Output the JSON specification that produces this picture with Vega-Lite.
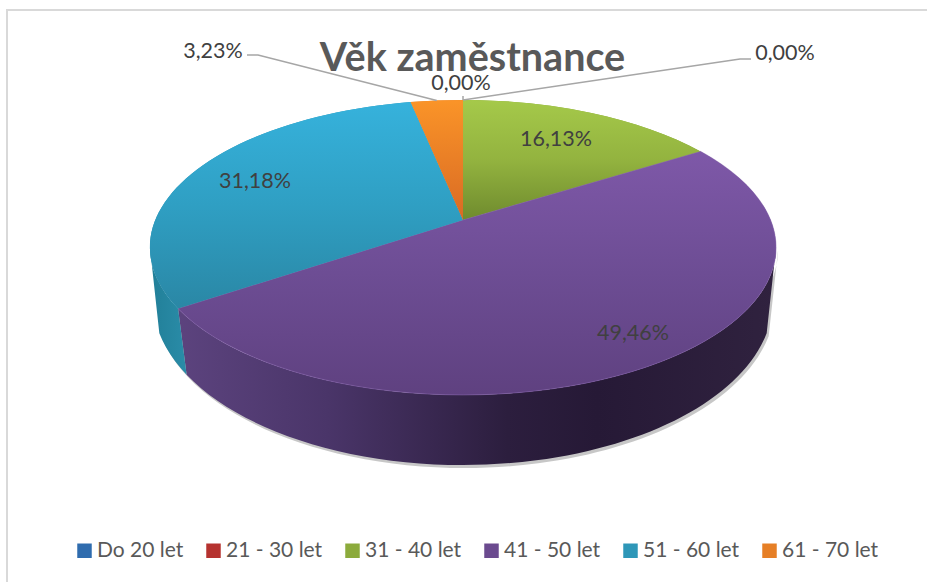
{
"$schema":"https://vega.github.io/schema/vega-lite/v6.json",
"width":925,"height":585,
"autosize":{"type":"none"},
"padding":{"left":7,"top":10,"right":0,"bottom":0},
"background":"white",
"config":{"view":{"stroke":"#d9d9d9","strokeWidth":2}},
"title":{"text":"Věk zaměstnance","anchor":"middle","frame":"group","offset":-61,"dx":3,"dy":39,"baseline":"alphabetic","font":"Lato","fontWeight":"bold","fontSize":39.5,"color":"#595959"},
"data":{"values":[
{"vek":"Do 20 let","pocet":0,"poradi":1},
{"vek":"21 - 30 let","pocet":0,"poradi":2},
{"vek":"31 - 40 let","pocet":15,"poradi":3},
{"vek":"41 - 50 let","pocet":46,"poradi":4},
{"vek":"51 - 60 let","pocet":29,"poradi":5},
{"vek":"61 - 70 let","pocet":3,"poradi":6}
]},
"transform":[
{"joinaggregate":[{"op":"sum","field":"pocet","as":"celkem"}]},
{"window":[{"op":"sum","field":"pocet","as":"kum"}],"sort":[{"field":"poradi","order":"ascending"}]},
{"calculate":"2*PI*(datum.kum-datum.pocet)/datum.celkem","as":"a0"},
{"calculate":"2*PI*datum.kum/datum.celkem","as":"a1"},
{"calculate":"(datum.a0+datum.a1)/2","as":"am"},
{"calculate":"round(30760*sin(datum.a0)/(1+0.186*cos(datum.a0)))/100","as":"x0"},
{"calculate":"round(-14240*cos(datum.a0)/(1+0.186*cos(datum.a0)))/100","as":"y0"},
{"calculate":"round(30760*sin(datum.a1)/(1+0.186*cos(datum.a1)))/100","as":"x1"},
{"calculate":"round(-14240*cos(datum.a1)/(1+0.186*cos(datum.a1)))/100","as":"y1"},
{"calculate":"round(30760*sin(datum.am)/(1+0.186*cos(datum.am)))/100","as":"xm"},
{"calculate":"round(-14240*cos(datum.am)/(1+0.186*cos(datum.am)))/100","as":"ym"},
{"calculate":"'M0,0L'+datum.x0+','+datum.y0+'A313,147.5,0,0,1,'+datum.xm+','+datum.ym+'A313,147.5,0,0,1,'+datum.x1+','+datum.y1+'Z'","as":"vysec"},
{"calculate":"max(datum.a0,1.757)","as":"wa"},
{"calculate":"min(datum.a1,4.525)","as":"wb"},
{"calculate":"(datum.wa+datum.wb)/2","as":"wm"},
{"calculate":"round(30760*sin(datum.wa)/(1+0.186*cos(datum.wa)))/100","as":"wxa"},
{"calculate":"round(-14240*cos(datum.wa)/(1+0.186*cos(datum.wa)))/100","as":"wya"},
{"calculate":"round(30760*sin(datum.wb)/(1+0.186*cos(datum.wb)))/100","as":"wxb"},
{"calculate":"round(-14240*cos(datum.wb)/(1+0.186*cos(datum.wb)))/100","as":"wyb"},
{"calculate":"round(30760*sin(datum.wm)/(1+0.186*cos(datum.wm)))/100","as":"wxm"},
{"calculate":"round(-14240*cos(datum.wm)/(1+0.186*cos(datum.wm)))/100","as":"wym"},
{"calculate":"round(datum.wxa*97)/100","as":"bxa"},
{"calculate":"round(100*(80+165*sqrt(1-pow(datum.bxa/310,2))))/100","as":"bya"},
{"calculate":"round(datum.wxb*97)/100","as":"bxb"},
{"calculate":"round(100*(80+165*sqrt(1-pow(datum.bxb/310,2))))/100","as":"byb"},
{"calculate":"round(datum.wxm*97)/100","as":"bxm"},
{"calculate":"round(100*(80+165*sqrt(1-pow(datum.bxm/310,2))))/100","as":"bym"},
{"calculate":"'M'+datum.wxa+','+datum.wya+'A313,147.5,0,0,1,'+datum.wxm+','+datum.wym+'A313,147.5,0,0,1,'+datum.wxb+','+datum.wyb+'L'+datum.bxb+','+datum.byb+'A310,165,0,0,0,'+datum.bxm+','+datum.bym+'A310,165,0,0,0,'+datum.bxa+','+datum.bya+'Z'","as":"stena"},
{"calculate":"'M'+datum.xm+','+datum.ym+(datum.vek=='61 - 70 let'?'L-205,-165L-216,-165':datum.vek=='Do 20 let'?'L277,-161L288,-161':'L0,-124')","as":"vodic"},
{"calculate":"replace(format(datum.pocet/datum.celkem,'.2%'),'.',',')","as":"popisek"},
{"calculate":"{'Do 20 let':778,'21 - 30 let':454,'31 - 40 let':549,'41 - 50 let':626,'51 - 60 let':248,'61 - 70 let':206}[datum.vek]","as":"lx"},
{"calculate":"{'Do 20 let':44,'21 - 30 let':74,'31 - 40 let':130,'41 - 50 let':324,'51 - 60 let':172,'61 - 70 let':42}[datum.vek]","as":"ly"}
],
"layer":[
{"transform":[{"filter":"datum.wb>datum.wa"}],
 "mark":{"type":"point","filled":true,"size":4,"opacity":0.22,"xOffset":-4.5,"yOffset":-79.5,"color":"#000000"},
 "encoding":{"shape":{"field":"stena","type":"nominal","scale":null,"legend":null}}},
{"transform":[{"filter":"datum.wb>datum.wa && datum.vek=='41 - 50 let'"}],
 "mark":{"type":"point","filled":true,"size":4,"opacity":1,"xOffset":-6.5,"yOffset":-82.5,
  "fill":{"gradient":"linear","x1":0,"y1":0,"x2":1,"y2":0,"stops":[{"offset":0,"color":"#5c437e"},{"offset":0.25,"color":"#4a3569"},{"offset":0.55,"color":"#2c1e3e"},{"offset":0.7,"color":"#261936"},{"offset":1,"color":"#30223f"}]}},
 "encoding":{"shape":{"field":"stena","type":"nominal","scale":null,"legend":null}}},
{"transform":[{"filter":"datum.wb>datum.wa && datum.vek=='51 - 60 let'"}],
 "mark":{"type":"point","filled":true,"size":4,"opacity":1,"xOffset":-6.5,"yOffset":-82.5,
  "fill":{"gradient":"linear","x1":0,"y1":0,"x2":1,"y2":0,"stops":[{"offset":0,"color":"#217f98"},{"offset":1,"color":"#2a8ca8"}]}},
 "encoding":{"shape":{"field":"stena","type":"nominal","scale":null,"legend":null}}},
{"transform":[{"filter":"datum.pocet>0"}],
 "mark":{"type":"point","filled":true,"size":4,"opacity":1,"xOffset":-6.5,"yOffset":-82.5},
 "encoding":{
  "shape":{"field":"vysec","type":"nominal","scale":null,"legend":null},
  "color":{"field":"vek","type":"nominal","sort":null,
   "scale":{"domain":["Do 20 let","21 - 30 let","31 - 40 let","41 - 50 let","51 - 60 let","61 - 70 let"],"range":["#2f6cae","#b5322f","#8cab3c","#6b4a8f","#2e97b8","#e67f26"]},
   "legend":{"orient":"none","legendX":67,"legendY":530,"direction":"horizontal","columns":6,"title":null,"symbolType":"square","symbolSize":210,"symbolStrokeWidth":0,"columnPadding":19,"labelOffset":2,"labelFont":"Lato","labelFontSize":21,"labelColor":"#595959"}}}},
{"transform":[{"filter":"datum.vek=='31 - 40 let'"}],
 "mark":{"type":"point","filled":true,"size":4,"opacity":1,"xOffset":-6.5,"yOffset":-82.5,
  "fill":{"gradient":"linear","x1":0,"y1":0,"x2":0,"y2":1,"stops":[{"offset":0,"color":"#a5c94a"},{"offset":0.5,"color":"#93b33f"},{"offset":1,"color":"#6f8b2e"}]}},
 "encoding":{"shape":{"field":"vysec","type":"nominal","scale":null,"legend":null}}},
{"transform":[{"filter":"datum.vek=='41 - 50 let'"}],
 "mark":{"type":"point","filled":true,"size":4,"opacity":1,"xOffset":-6.5,"yOffset":-82.5,"stroke":"#8a68b0","strokeOpacity":0.5,"strokeWidth":1,
  "fill":{"gradient":"linear","x1":0,"y1":0,"x2":0,"y2":1,"stops":[{"offset":0,"color":"#7e58a8"},{"offset":0.5,"color":"#6d4d94"},{"offset":1,"color":"#5f4180"}]}},
 "encoding":{"shape":{"field":"vysec","type":"nominal","scale":null,"legend":null}}},
{"transform":[{"filter":"datum.vek=='51 - 60 let'"}],
 "mark":{"type":"point","filled":true,"size":4,"opacity":1,"xOffset":-6.5,"yOffset":-82.5,
  "fill":{"gradient":"linear","x1":0,"y1":0,"x2":0,"y2":1,"stops":[{"offset":0,"color":"#36b2dc"},{"offset":0.5,"color":"#2f9fc3"},{"offset":1,"color":"#2a87a5"}]}},
 "encoding":{"shape":{"field":"vysec","type":"nominal","scale":null,"legend":null}}},
{"transform":[{"filter":"datum.vek=='61 - 70 let'"}],
 "mark":{"type":"point","filled":true,"size":4,"opacity":1,"xOffset":-6.5,"yOffset":-82.5,
  "fill":{"gradient":"linear","x1":0,"y1":0,"x2":0,"y2":1,"stops":[{"offset":0,"color":"#fa9428"},{"offset":1,"color":"#d96a24"}]}},
 "encoding":{"shape":{"field":"vysec","type":"nominal","scale":null,"legend":null}}},
{"transform":[{"filter":"datum.vek=='61 - 70 let'||datum.vek=='Do 20 let'||datum.vek=='21 - 30 let'"}],
 "mark":{"type":"point","filled":false,"size":4,"opacity":1,"xOffset":-6.5,"yOffset":-82.5,"stroke":"#a6a6a6","strokeWidth":1.5},
 "encoding":{"shape":{"field":"vodic","type":"nominal","scale":null,"legend":null}}},
{"mark":{"type":"text","font":"Lato","fontSize":21.5,"color":"#404040","align":"center","baseline":"middle"},
 "encoding":{
  "x":{"field":"lx","type":"quantitative","scale":null},
  "y":{"field":"ly","type":"quantitative","scale":null},
  "text":{"field":"popisek","type":"nominal"}}}
]
}
